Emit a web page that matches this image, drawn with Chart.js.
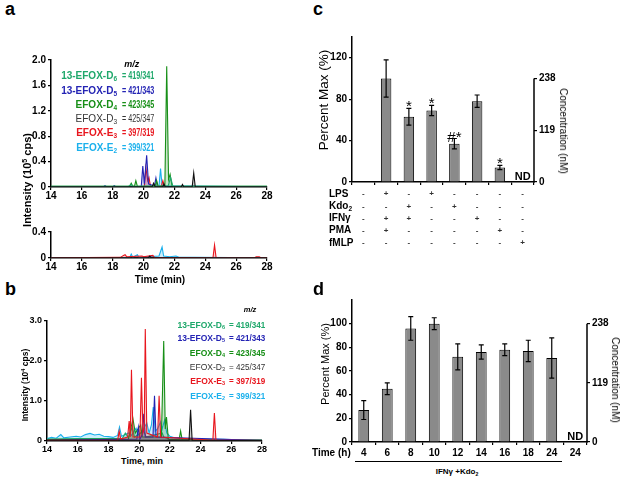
<!DOCTYPE html>
<html>
<head>
<meta charset="utf-8">
<script src="https://cdn.jsdelivr.net/npm/chart.js@4.4.0/dist/chart.umd.min.js"></script>
<style>
  body { margin:0; width:624px; height:480px; position:relative; overflow:hidden; background:#fff;
         font-family:"Liberation Sans", Arial, sans-serif; color:#000; }
  canvas { position:absolute; }
  .t { position:absolute; white-space:nowrap; line-height:1; font-weight:bold; }
  .l { transform:translate(0,-50%); }
  .r { transform:translate(-100%,-50%); }
  .c { transform:translate(-50%,-50%); }
  .vl { transform:translate(-50%,-50%) rotate(-90deg); }
  .vr { transform:translate(-50%,-50%) rotate(90deg); }
  .n { font-weight:normal; }
  sub { font-size:65%; vertical-align:-0.3em; line-height:0; }
  sup { font-size:65%; vertical-align:0.55em; line-height:0; }
</style>
</head>
<body>
<canvas id="ca1"></canvas>
<canvas id="ca2"></canvas>
<canvas id="cb"></canvas>
<canvas id="cc"></canvas>
<canvas id="cd"></canvas>

<div class="t" style="left:5px;top:0px;font-size:18px">a</div>
<div class="t" style="left:5px;top:280px;font-size:18px">b</div>
<div class="t" style="left:313px;top:0px;font-size:18px">c</div>
<div class="t" style="left:313px;top:280px;font-size:18px">d</div>

<div class="t vl" style="left:27px;top:180px;font-size:11px">Intensity (10<sup>5</sup> cps)</div>
<div class="t c" style="left:160px;top:280px;font-size:10px">Time (min)</div>
<div class="t vl" style="left:25px;top:385px;font-size:8.5px">Intensity (10<sup>4</sup> cps)</div>
<div class="t c" style="left:142px;top:461px;font-size:9px">Time, min</div>

<div class="t vl n" style="left:324px;top:100px;font-size:13.5px">Percent Max (%)</div>
<div class="t vr n" style="left:563px;top:131px;font-size:10px">Concentration (nM)</div>
<div class="t vl n" style="left:325px;top:364px;font-size:11px">Percent Max (%)</div>
<div class="t vr n" style="left:615px;top:380px;font-size:10px">Concentration (nM)</div>

<div class="t l" style="left:329px;top:194px;font-size:10px">LPS</div>
<div class="t l" style="left:329px;top:206px;font-size:10px">Kdo<sub>2</sub></div>
<div class="t l" style="left:329px;top:218px;font-size:10px">IFN&gamma;</div>
<div class="t l" style="left:329px;top:230px;font-size:10px">PMA</div>
<div class="t l" style="left:329px;top:243px;font-size:10px">fMLP</div>

<div class="t l" style="left:312px;top:453px;font-size:10px">Time (h)</div>
<div style="position:absolute;left:355px;top:461px;width:207px;border-top:1px solid #000"></div>
<div class="t c" style="left:457px;top:472px;font-size:8px">IFN&gamma; +Kdo<sub>2</sub></div>

<script>
// colours of the six m/z traces
var cD6 = '#1fa86b', cD5 = '#2424b4', cD4 = '#178f17', cD3 = '#111111', cE3 = '#e8161e', cE2 = '#1ab0ec';

// panel a, upper trace  [time (min), intensity (10^5 cps)]
var a1D6 = [[14,0.01],[17,0.01],[19.0,0.01],[19.2,0.04],[19.3,0.01],[21.6,0.02],[21.75,0.15],[21.9,0.01],[28,0.01]];
var a1D5 = [[14,0.005],[17.4,0.005],[17.5,0.02],[17.6,0.005],[18.0,0.005],[18.1,0.02],[18.2,0.005],[19.85,0.01],[19.95,0.33],[20.05,0.05],[20.2,0.5],[20.32,0.05],[20.7,0.01],[20.8,0.14],[20.9,0.01],[28,0.005]];
var a1D4 = [[14,0.01],[19.1,0.01],[19.2,0.06],[19.3,0.01],[19.42,0.02],[19.5,0.1],[19.6,0.01],[20.75,0.01],[20.85,0.1],[20.95,0.01],[21.38,0.02],[21.5,1.9],[21.62,0.12],[21.72,0.2],[21.85,0.01],[28,0.01]];
var a1D3 = [[14,0.003],[20.55,0.003],[20.65,0.06],[20.75,0.003],[21.25,0.003],[21.32,0.05],[21.4,0.003],[22.45,0.003],[22.52,0.04],[22.6,0.003],[23.15,0.003],[23.25,0.22],[23.35,0.003],[28,0.003]];
var a1E3 = [[14,0.005],[20.05,0.01],[20.15,0.3],[20.27,0.1],[20.35,0.15],[20.45,0.01],[21.15,0.01],[21.25,0.1],[21.35,0.01],[28,0.005]];
var a1E2 = [[14,0.005],[21.0,0.01],[21.1,0.29],[21.2,0.02],[28,0.005]];

// panel a, lower trace
var a2D3 = [[14,0.003],[20.3,0.003],[20.4,0.03],[20.5,0.003],[28,0.003]];
var a2E3 = [[14,0.003],[18.5,0.01],[18.7,0.04],[18.8,0.05],[18.9,0.02],[19.9,0.03],[20.0,0.02],[20.6,0.04],[20.7,0.01],[24.5,0.005],[24.6,0.2],[24.7,0.005],[27.2,0.005],[27.3,0.02],[27.5,0.02],[27.6,0.005],[28,0.003]];
var a2E2 = [[14,0.003],[19.1,0.005],[19.2,0.06],[19.3,0.01],[19.6,0.05],[19.7,0.01],[21.0,0.03],[21.1,0.1],[21.2,0.17],[21.3,0.03],[21.7,0.02],[22.1,0.03],[22.3,0.01],[23.3,0.01],[28,0.003]];

// panel b  [time (min), intensity (10^4 cps)]
var bD6 = [[14,0.05],[16,0.06],[18.9,0.06],[19.1,0.2],[19.3,0.08],[19.55,0.35],[19.7,0.1],[20.3,0.25],[20.45,0.1],[21.5,0.2],[21.6,0.1],[22,0.04],[28,0.02]];
var bD5 = [[14,0.02],[19.85,0.05],[19.95,0.35],[20.05,0.05],[20.2,0.15],[20.3,0.68],[20.4,0.1],[20.9,0.1],[21.0,1.13],[21.1,0.1],[28,0.01]];
var bD4 = [[14,0.03],[19.3,0.05],[19.6,0.55],[19.75,0.2],[20.1,0.4],[20.2,0.1],[21.45,0.1],[21.6,2.5],[21.7,0.3],[21.78,0.6],[21.9,0.05],[22.6,0.03],[22.7,0.25],[22.8,0.03],[28,0.02]];
var bD3 = [[14,0.02],[22.8,0.02],[23.25,0.02],[23.35,0.78],[23.45,0.02],[28,0.01]];
var bE3 = [[14,0.02],[18.6,0.02],[18.7,0.25],[18.8,0.05],[19.25,0.1],[19.35,0.5],[19.42,0.1],[19.5,1.78],[19.6,0.1],[20.05,0.1],[20.15,1.58],[20.25,0.2],[20.33,0.3],[20.4,2.8],[20.5,0.2],[21.2,0.1],[21.3,1.13],[21.4,0.1],[24.8,0.02],[24.9,0.7],[25.0,0.02],[28,0.02]];
var bE2 = [[14,0.06],[14.3,0.09],[14.6,0.07],[14.9,0.16],[15.1,0.08],[15.5,0.1],[15.9,0.12],[16.2,0.1],[16.5,0.16],[16.8,0.19],[17.1,0.15],[17.4,0.17],[17.7,0.12],[18.0,0.11],[18.3,0.09],[18.6,0.14],[18.72,0.35],[18.85,0.12],[19.1,0.16],[19.3,0.2],[19.5,0.14],[19.8,0.32],[19.95,0.15],[20.15,0.22],[20.5,0.45],[20.65,0.2],[20.8,0.4],[20.92,0.85],[21.05,0.25],[21.2,0.3],[21.4,0.48],[21.5,0.3],[21.65,0.52],[21.8,0.2],[22.0,0.12],[22.3,0.08],[22.8,0.06],[23.5,0.05],[24.5,0.04],[25.5,0.04],[26.5,0.03],[28,0.03]];

// legend of the traces
var legNames = ['13-EFOX-D<sub>6</sub>', '13-EFOX-D<sub>5</sub>', 'EFOX-D<sub>4</sub>', 'EFOX-D<sub>3</sub>', 'EFOX-E<sub>3</sub>', 'EFOX-E<sub>2</sub>'];
var legMz = ['419/341', '421/343', '423/345', '425/347', '397/319', '399/321'];
var legColors = [cD6, cD5, cD4, '#333', cE3, cE2];

// panel c
var cLPS  = ['-', '+', '-', '+', '-', '-', '-', '-'];
var cKdo  = ['-', '-', '+', '-', '+', '-', '-', '-'];
var cIFN  = ['-', '+', '+', '-', '-', '+', '-', '-'];
var cPMA  = ['-', '+', '-', '-', '-', '-', '+', '-'];
var cFMLP = ['-', '-', '-', '-', '-', '-', '-', '+'];
var cPct  = [null, 100, 63, 69, 37, 78, 14, null];
var cErr  = [0, 18, 8, 5, 5, 6, 2, 0];
var cMarks = ['', '', '*', '*', '#*', '', '*', 'ND'];

// panel d
var dTime = ['4', '6', '8', '10', '12', '14', '16', '18', '24', '24'];
var dPct  = [27, 45, 96, 100, 72, 76, 78, 77, 71, null];
var dErr  = [8, 5, 10, 5, 11, 6, 5, 9, 17, 0];
var dMarks = ['', '', '', '', '', '', '', '', '', 'ND'];

var concTicks = [0, 119, 238];   // nM, 238 nM = 100 %

Chart.defaults.font.family = "'Liberation Sans', Arial, sans-serif";
Chart.defaults.color = '#000';
Chart.defaults.animation = false;

function addText(html, x, y, cls, style) {
  var d = document.createElement('div');
  d.className = 't ' + cls;
  d.innerHTML = html;
  d.style.cssText = 'left:' + x + 'px;top:' + y + 'px;' + (style || '');
  document.body.appendChild(d);
}

function legend(xName, xEq, ys, size, squeeze, mzPos) {
  addText('<i>m/z</i>', mzPos[0], mzPos[1], 'c', 'font-size:' + (size - 1) + 'px');
  ys.forEach(function (y, i) {
    var w = i == 3 ? 'font-weight:normal;' : '';
    addText(legNames[i], xName, y, 'r', w + 'font-size:' + size + 'px;color:' + legColors[i]);
    addText('= ' + legMz[i], xEq, y, 'l', w + 'font-size:' + size + 'px;color:' + legColors[i] +
      ';transform-origin:0 50%;transform:translate(0,-50%) scaleX(' + squeeze + ')');
  });
}
legend(117, 121.7, [76, 90.5, 104.5, 119, 133.3, 148], 10, 0.72, [131.7, 64]);
legend(225, 229.3, [325, 338.3, 352.7, 366.7, 381, 396], 8.5, 0.95, [250, 310]);

function place(id, area, pad) {
  var cv = document.getElementById(id);
  cv.width = area.w + pad.l + pad.r;
  cv.height = area.h + pad.t + pad.b;
  cv.style.left = (area.x - pad.l) + 'px';
  cv.style.top = (area.y - pad.t) + 'px';
  return cv;
}
function sized(prop, v) {
  return function (s) {
    s[prop] = v;
    s.paddingLeft = s.paddingRight = s.paddingTop = s.paddingBottom = 0;
  };
}

function chrom(id, area, pad, sets, ymax, ystep, fs) {
  var cv = place(id, area, pad);
  return new Chart(cv, {
    type: 'line',
    data: { datasets: sets.map(function (s) {
      return { data: s[0], borderColor: s[1], backgroundColor: s[1] + '38', borderWidth: 1.1,
               pointRadius: 0, fill: 'origin', tension: 0 };
    }) },
    options: {
      responsive: false, devicePixelRatio: 1,
      layout: { padding: { top: pad.t, right: pad.r, left: 0, bottom: 0 } },
      plugins: { legend: { display: false }, tooltip: { enabled: false } },
      scales: {
        x: { type: 'linear', min: 14, max: 28, afterFit: sized('height', pad.b),
             ticks: { stepSize: 2, font: { size: fs, weight: 'bold' }, padding: 0, maxRotation: 0 },
             grid: { drawOnChartArea: false, tickLength: 3, color: '#000', lineWidth: 1.2 },
             border: { color: '#000', width: 1.5 } },
        y: { min: 0, max: ymax, afterFit: sized('width', pad.l),
             ticks: { stepSize: ystep, font: { size: fs, weight: 'bold' }, padding: 2,
                      callback: function (v) { return v === 0 ? '0' : v.toFixed(1); } },
             grid: { drawOnChartArea: false, tickLength: 3, color: '#000', lineWidth: 1.2 },
             border: { color: '#000', width: 1.5 } }
      }
    }
  });
}

chrom('ca1', { x: 51, y: 60, w: 216, h: 127 }, { l: 50, r: 14, t: 8, b: 22 },
  [[a1D3, cD3], [a1D6, cD6], [a1D4, cD4], [a1D5, cD5], [a1E3, cE3], [a1E2, cE2]], 2.0, 0.4, 10);
chrom('ca2', { x: 51, y: 232, w: 216, h: 26 }, { l: 50, r: 14, t: 6, b: 16 },
  [[a2D3, cD3], [a2E3, cE3], [a2E2, cE2]], 0.4, 0.4, 10);
chrom('cb', { x: 47, y: 321, w: 215, h: 120 }, { l: 45, r: 14, t: 8, b: 14 },
  [[bD3, cD3], [bE3, cE3], [bD5, cD5], [bD4, cD4], [bD6, cD6], [bE2, cE2]], 3.0, 1.0, 9);

// error bars, star marks and the short right-hand concentration axis
var barExtras = {
  id: 'barExtras',
  afterDatasetsDraw: function (chart) {
    if (chart.config.type !== 'bar') return;
    var ds = chart.data.datasets[0];
    var ctx = chart.ctx, x = chart.scales.x, y = chart.scales.y, y2 = chart.scales.y2;
    ctx.save();
    ctx.strokeStyle = '#000';
    ctx.fillStyle = '#000';
    ctx.lineWidth = 1.2;
    ds.data.forEach(function (v, i) {
      var px = x.getPixelForValue(i);
      var mark = ds.marks[i];
      if (v != null) {
        var top = y.getPixelForValue(v + ds.errs[i]), bot = y.getPixelForValue(v - ds.errs[i]);
        ctx.beginPath();
        ctx.moveTo(px, top); ctx.lineTo(px, bot);
        ctx.moveTo(px - 2.5, top); ctx.lineTo(px + 2.5, top);
        ctx.moveTo(px - 2.5, bot); ctx.lineTo(px + 2.5, bot);
        ctx.stroke();
        if (mark) {
          ctx.font = "15px 'Liberation Sans', Arial";
          ctx.textAlign = 'center';
          ctx.textBaseline = 'alphabetic';
          ctx.fillText(mark, px, top + 3);
        }
      } else if (mark) {
        ctx.font = "bold 11px 'Liberation Sans', Arial";
        ctx.textAlign = 'center';
        ctx.textBaseline = 'alphabetic';
        ctx.fillText(mark, px, y.getPixelForValue(0) - 2);
      }
    });
    ctx.lineWidth = 1.5;
    ctx.beginPath();
    ctx.moveTo(y2.left, y2.getPixelForValue(0) + 0.75);
    ctx.lineTo(y2.left, y2.getPixelForValue(238));
    ctx.stroke();
    ctx.restore();
  }
};
Chart.register(barExtras);

function bars(id, area, pad, labels, vals, errs, marks, ymax, ystep, xfont, xpad, xcolor) {
  var cv = place(id, area, pad);
  var tickGrid = { drawOnChartArea: false, tickLength: 3, color: '#000', lineWidth: 1.2 };
  return new Chart(cv, {
    type: 'bar',
    data: { labels: labels, datasets: [{ data: vals, errs: errs, marks: marks,
      backgroundColor: '#8a8a8a', borderColor: '#000', borderWidth: 1,
      barPercentage: 0.46, categoryPercentage: 1 }] },
    options: {
      responsive: false, devicePixelRatio: 1,
      layout: { padding: { top: pad.t, right: 0, left: 0, bottom: 0 } },
      plugins: { legend: { display: false }, tooltip: { enabled: false } },
      scales: {
        x: { afterFit: sized('height', pad.b),
             ticks: { font: xfont, color: xcolor, padding: xpad, maxRotation: 0, autoSkip: false },
             grid: tickGrid, border: { color: '#000', width: 1.5 } },
        y: { min: 0, max: ymax, afterFit: sized('width', pad.l),
             afterBuildTicks: function (s) { s.ticks = s.ticks.filter(function (t) { return t.value <= ymax - ystep / 2; }); },
             ticks: { stepSize: ystep, font: { size: 10, weight: 'bold' }, padding: 2 },
             grid: tickGrid, border: { color: '#000', width: 1.5 } },
        y2: { position: 'right', min: 0, max: ymax * 2.38, afterFit: sized('width', pad.r),
              afterBuildTicks: function (s) { s.ticks = concTicks.map(function (v) { return { value: v }; }); },
              ticks: { font: { size: 10, weight: 'bold' }, padding: 2 },
              grid: tickGrid, border: { display: false } }
      }
    }
  });
}

var cLabels = cPct.map(function (v, i) { return [cLPS[i], cKdo[i], cIFN[i], cPMA[i], cFMLP[i]]; });
bars('cc', { x: 352, y: 37, w: 182, h: 145 }, { l: 30, r: 40, t: 8, b: 72 },
  cLabels, cPct, cErr, cMarks, 140, 40, { size: 8, weight: 'bold', lineHeight: 1.53 }, 3, '#333');
bars('cd', { x: 352, y: 300, w: 235, h: 142 }, { l: 30, r: 37, t: 8, b: 18 },
  dTime, dPct, dErr, dMarks, 120, 20, { size: 10, weight: 'bold' }, 2, '#000');
</script>
</body>
</html>
